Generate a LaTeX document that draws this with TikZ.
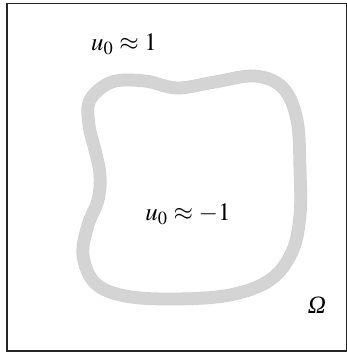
\documentclass[tikz,border=0pt]{standalone}
\usepackage{mathptmx}
\usepackage{fontspec}
\newfontfamily\lserif{Liberation Serif}
\begin{document}
\begin{tikzpicture}[x=0.5pt,y=-0.5pt,
  frame/.style={draw=black!85,line width=0.75pt},
  band/.style={draw=black!18,line width=6.4pt},
  bandin/.style={draw=black!17,line width=5.6pt},
  lab/.style={inner sep=0pt,font=\fontsize{12.5}{14}\selectfont}]
\useasboundingbox (0,0) rectangle (347,354);
\draw[frame] (7,3.5) rectangle (346.5,351);
\draw[band] plot[smooth cycle,tension=0.6] coordinates {
 (90,100) (112,82) (145,81) (177,88) (215,82) (255,76) (283,88) (297,120)
 (300,170) (300,215) (292,252) (270,280) (230,295) (175,299) (125,296)
 (95,283) (83,255) (88,225) (98,200) (100,175) (95,150) (89,125)};
\draw[bandin] plot[smooth cycle,tension=0.6] coordinates {
 (90,100) (112,82) (145,81) (177,88) (215,82) (255,76) (283,88) (297,120)
 (300,170) (300,215) (292,252) (270,280) (230,295) (175,299) (125,296)
 (95,283) (83,255) (88,225) (98,200) (100,175) (95,150) (89,125)};
\node[lab] (outer) at (124,44) {$u_0\approx 1$};
\node[lab] (inner) at (188,214) {$u_0\approx -1$};
\node[lab] (om) at (317,305) {\lserif\itshape Ω};
\end{tikzpicture}
\end{document}
